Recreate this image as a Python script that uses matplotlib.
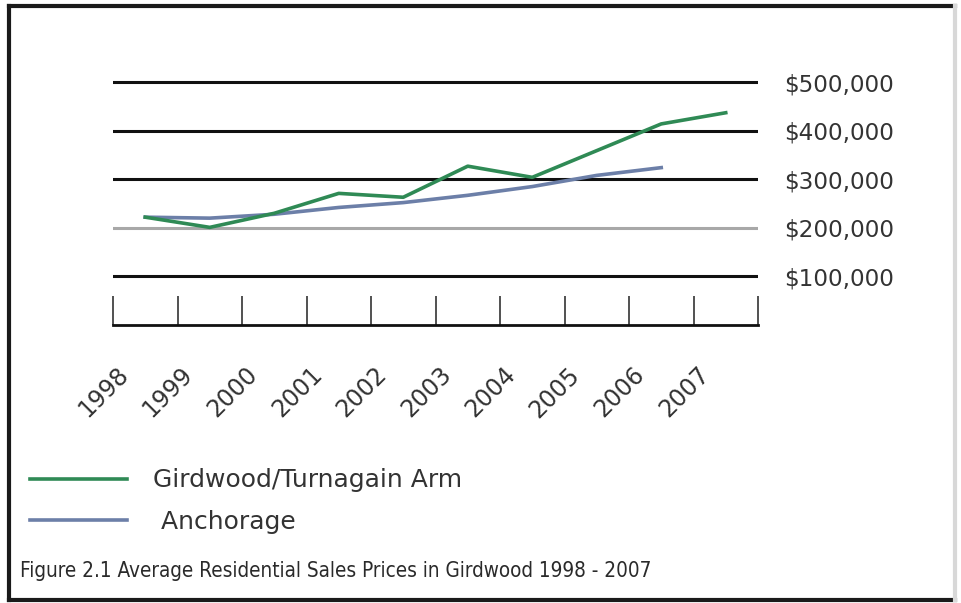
import matplotlib.pyplot as plt
import matplotlib.transforms as mtransforms
from matplotlib.lines import Line2D

years = ['1998', '1999', '2000', '2001', '2002', '2003', '2004', '2005', '2006', '2007']
girdwood = [222000, 201000, 230000, 271000, 263000, 327000, 304000, 359000, 414000, 437000]
anchorage = [222000, 220000, 228000, 242000, 252000, 267000, 285000, 308000, 324000]
gridvals = [100000, 200000, 300000, 400000, 500000]
gridlabels = ['$100,000', '$200,000', '$300,000', '$400,000', '$500,000']

green = '#2f8a55'
blue = '#6c7fa8'
txt = '#333333'

fig = plt.figure(figsize=(9.61, 6.03), dpi=100)
ax = fig.add_axes([113 / 961, 1 - 325 / 603, 645 / 961, 255 / 603])

# horizontal rules, the 200k one is grey
for v in gridvals:
    c = '#a8a8a8' if v == 200000 else '#111111'
    ax.axhline(v, color=c, lw=2.2, zorder=1)

x = list(range(len(years)))
ax.plot(x, girdwood, color=green, lw=2.6, label='Girdwood/Turnagain Arm', zorder=3)
ax.plot(x[:len(anchorage)], anchorage, color=blue, lw=2.6, label=' Anchorage', zorder=2)

ax.set_xlim(-0.5, len(years) - 0.5)
ax.set_ylim(0, 525000)

for s in ['top', 'left', 'right']:
    ax.spines[s].set_visible(False)
ax.spines['bottom'].set_color('#111111')
ax.spines['bottom'].set_linewidth(2)

# tick marks between categories, labels at centres
ax.set_xticks([i - 0.5 for i in range(len(years) + 1)])
ax.set_xticklabels([''] * (len(years) + 1))
ax.tick_params(axis='x', direction='in', length=21, width=1.2, color='#333333')
ax.set_xticks(x, minor=True)
ax.set_xticklabels(years, minor=True, rotation=45, ha='right', va='top',
                   rotation_mode='anchor', fontsize=17, color=txt)
ax.tick_params(axis='x', which='minor', length=0, pad=27)
offset = mtransforms.ScaledTranslation(-29 / 100, 0, fig.dpi_scale_trans)
for lab in ax.xaxis.get_minorticklabels():
    lab.set_transform(lab.get_transform() + offset)

ax.yaxis.tick_right()
ax.set_yticks(gridvals)
ax.set_yticklabels(gridlabels, fontsize=16.7, color=txt)
ax.tick_params(axis='y', length=0, pad=19)

fig.legend(loc='upper left', bbox_to_anchor=(7 / 961, 1 - 446 / 603), frameon=False,
           handlelength=3.9, handletextpad=1.05, labelspacing=0.68,
           prop={'size': 18}, labelcolor=txt)

fig.text(20 / 961, 1 - 571 / 603,
         'Figure 2.1 Average Residential Sales Prices in Girdwood 1998 - 2007',
         family='DejaVu Sans', stretch='condensed', fontsize=14.9, color='#2a2a2a',
         va='center', ha='left')

# frame round the whole figure, right edge is faint in the original
L, R, T, B = 9 / 961, 955 / 961, 1 - 6 / 603, 1 - 600 / 603
for xs, ys, c in [([L, R], [T, T], '#1a1a1a'), ([L, L], [T, B], '#1a1a1a'),
                  ([L, R], [B, B], '#1a1a1a'), ([R, R], [T, B], '#d8d8d8')]:
    fig.add_artist(Line2D(xs, ys, transform=fig.transFigure, color=c, lw=3,
                          solid_capstyle='projecting'))

fig.savefig('out.png', dpi=100)
